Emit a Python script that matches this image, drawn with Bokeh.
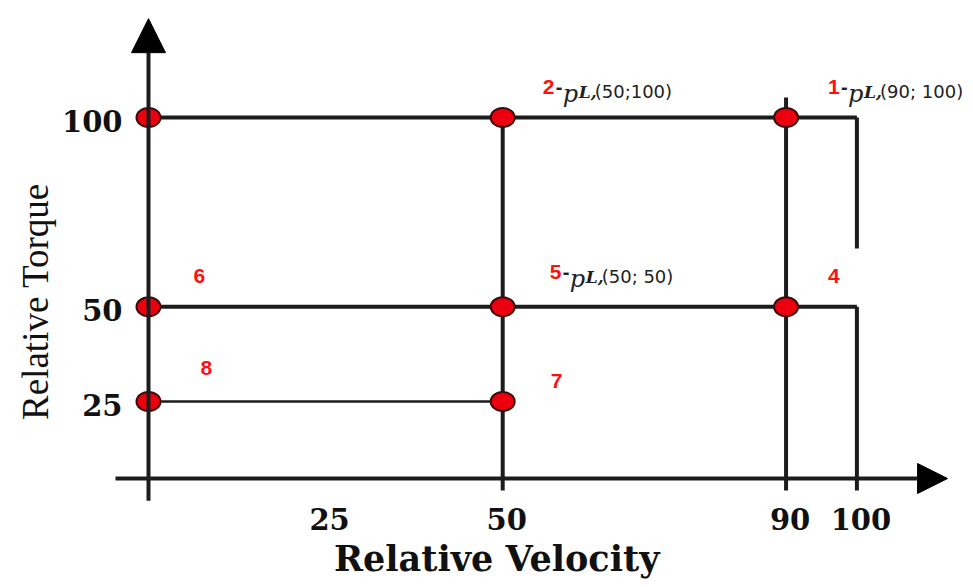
from bokeh.plotting import figure
from bokeh.models import Range1d, Arrow, NormalHead, ColumnDataSource
from bokeh.core.properties import value
from bokeh.embed import file_html
from bokeh.resources import INLINE

# ---- data ----
point_x = [0, 50, 90, 0, 50, 90, 0, 50]
point_y = [100, 100, 100, 50, 50, 50, 25, 25]
x_ticks = [25, 50, 90, 100]
x_tick_labels = ["25", "50", "90", "100"]
y_ticks = [100, 50, 25]
y_tick_labels = ["100", "50", "25"]
x_title = "Relative Velocity"
y_title = "Relative Torque"

# numbered state labels: number, anchor point, subscript (None = number only)
state_nums = ["2", "1", "5", "4", "6", "8", "7"]
state_x = [50, 90, 50, 90, 0, 0, 50]
state_y = [100, 100, 50, 50, 50, 25, 25]
state_sub = ["(50;100)", "(90; 100)", "(50; 50)", None, None, None, None]
# layout offsets (pixels) of each label relative to its anchor point
state_dx = [40, 42, 47, 42, 45, 52, 48]
state_dy = [-31, -31, -35, -31, -31, -34, -21]

AXIS_Y = 4.67      # level of the horizontal axis line
TICK_BOTTOM = 1.5  # lower end of the vertical lines below the axis

p = figure(width=965, height=579, output_backend="svg", toolbar_location=None,
           x_range=Range1d(-20.892, 115.33), y_range=Range1d(-22.0, 130.897),
           x_axis_location=None, y_axis_location=None, min_border=0)
p.grid.visible = False
p.outline_line_color = None
p.background_fill_color = "white"

LC = "#1c1c1c"

# horizontal lines
p.segment(x0=[0, 0], y0=[100, 50], x1=[100, 100], y1=[100, 50], line_color=LC, line_width=4)
p.segment(x0=[0], y0=[25], x1=[50], y1=[25], line_color=LC, line_width=2.5)
# vertical lines
p.segment(x0=[50, 90, 100, 100], y0=[100, 105.3, 100, 50],
          x1=[50, 90, 100, 100], y1=[TICK_BOTTOM, TICK_BOTTOM, 65.4, TICK_BOTTOM],
          line_color=LC, line_width=4)

# axes with arrows
p.add_layout(Arrow(x_start=0, y_start=-1.2, x_end=0, y_end=126.1, line_color=LC, line_width=4,
                   end=NormalHead(size=34, fill_color="black", line_color="black")))
p.add_layout(Arrow(x_start=-4.66, y_start=AXIS_Y, x_end=112.8, y_end=AXIS_Y, line_color=LC, line_width=4,
                   end=NormalHead(size=30, fill_color="black", line_color="black")))

# points
p.ellipse(x=point_x, y=point_y, width=24, height=19, width_units="screen", height_units="screen",
          fill_color="#ec0010", line_color="#3a0c0c", line_width=2)

# tick labels
p.text(x=x_ticks, y=[AXIS_Y] * len(x_ticks), text=x_tick_labels, x_offset=4, y_offset=40,
       text_align="center", text_baseline="middle", text_font=value("DejaVu Serif"),
       text_font_style="bold", text_font_size="29px", text_color="#111111")
p.text(x=[0] * len(y_ticks), y=y_ticks, text=y_tick_labels, x_offset=-26, y_offset=3,
       text_align="right", text_baseline="middle", text_font=value("DejaVu Serif"),
       text_font_style="bold", text_font_size="29px", text_color="#111111")

# axis titles
p.text(x=[50], y=[AXIS_Y], text=[x_title], x_offset=-6, y_offset=80,
       text_align="center", text_baseline="middle", text_font=value("DejaVu Serif"),
       text_font_style="bold", text_font_size="35px", text_color="#111111")
p.text(x=[0], y=[51.4], text=[y_title], x_offset=-113, y_offset=0, angle=1.5708,
       text_align="center", text_baseline="middle", text_font=value("Liberation Serif"),
       text_font_size="37px", text_color="#111111")

# state labels
src = ColumnDataSource(dict(x=state_x, y=state_y, t=state_nums, dx=state_dx, dy=state_dy))
p.text(x="x", y="y", text="t", x_offset="dx", y_offset="dy", source=src,
       text_align="left", text_baseline="middle", text_font=value("Liberation Sans"),
       text_font_style="bold", text_font_size="21px", text_color="#ff1010")

sx, sy, ss, sdx, sdy = [], [], [], [], []
for i, s in enumerate(state_sub):
    if s is not None:
        sx.append(state_x[i]); sy.append(state_y[i]); ss.append(s)
        sdx.append(state_dx[i]); sdy.append(state_dy[i])

dash = ColumnDataSource(dict(x=sx, y=sy, t=["-"] * len(sx), dx=[d + 13 for d in sdx], dy=sdy))
p.text(x="x", y="y", text="t", x_offset="dx", y_offset="dy", source=dash,
       text_align="left", text_baseline="middle", text_font=value("Liberation Sans"),
       text_font_style="bold", text_font_size="20px", text_color="#222222")
pp = ColumnDataSource(dict(x=sx, y=sy, t=["p"] * len(sx), dx=[d + 20 for d in sdx], dy=[d + 7 for d in sdy]))
p.text(x="x", y="y", text="t", x_offset="dx", y_offset="dy", source=pp,
       text_align="left", text_baseline="alphabetic", text_font=value("DejaVu Serif"),
       text_font_style="italic", text_font_size="24px", text_color="#222222")
ll = ColumnDataSource(dict(x=sx, y=sy, t=["L,"] * len(sx), dx=[d + 36 for d in sdx], dy=[d + 5 for d in sdy]))
p.text(x="x", y="y", text="t", x_offset="dx", y_offset="dy", source=ll,
       text_align="left", text_baseline="middle", text_font=value("DejaVu Serif"),
       text_font_style="bold italic", text_font_size="17px", text_color="#222222")
sub = ColumnDataSource(dict(x=sx, y=sy, t=ss, dx=[d + 52 for d in sdx], dy=[d + 5 for d in sdy]))
p.text(x="x", y="y", text="t", x_offset="dx", y_offset="dy", source=sub,
       text_align="left", text_baseline="middle", text_font=value("DejaVu Sans"),
       text_font_size="18px", text_color="#222222")

open("out.html", "w").write(file_html(p, INLINE))
